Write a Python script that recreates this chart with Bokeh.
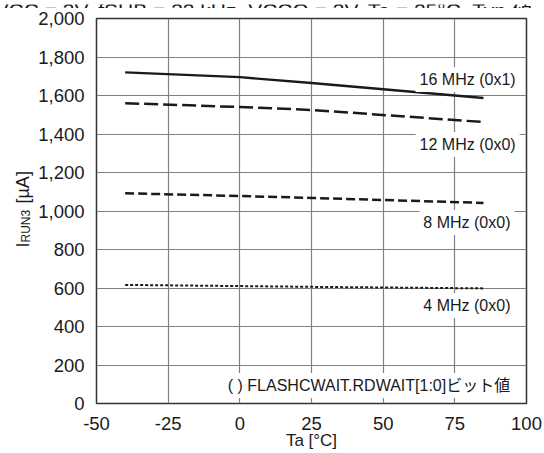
import math
from bokeh.plotting import figure
from bokeh.layouts import column, row
from bokeh.models import Label, FixedTicker, NumeralTickFormatter, Range1d
from bokeh.core.properties import value
from bokeh.embed import file_html
from bokeh.resources import INLINE

# ---- data ----
temps = [-40, 0, 25, 85]
i_16mhz = [1720, 1695, 1665, 1587]
i_12mhz = [1560, 1540, 1525, 1462]
i_8mhz = [1092, 1078, 1068, 1042]
i_4mhz = [616, 610, 606, 598]
series_labels = ["16 MHz (0x1)", "12 MHz (0x0)", "8 MHz (0x0)", "4 MHz (0x0)"]
x_ticks = [-50, -25, 0, 25, 50, 75, 100]
y_ticks = [0, 200, 400, 600, 800, 1000, 1200, 1400, 1600, 1800, 2000]
title_text = "VCC = 3V, fSUB = 32 kHz, VCCO = 3V, Ta = 25°C, Typ.値"
note_text = "( ) FLASHCWAIT.RDWAIT[1:0]ビット値"
x_title = "Ta [°C]"
y_title_parts = ["I", "RUN3", "[µA]"]

FONT = "Liberation Sans, Noto Sans CJK JP"
TXT = "#1a1a1a"


def blank(width, height, yr):
    f = figure(width=width, height=height, x_range=Range1d(0, width), y_range=Range1d(0, yr),
               output_backend="svg", toolbar_location=None)
    f.axis.visible = False
    f.grid.visible = False
    f.outline_line_color = None
    f.min_border = 0
    f.min_border_left = 0
    f.min_border_right = 0
    f.min_border_top = 0
    f.min_border_bottom = 0
    f.background_fill_color = "white"
    f.border_fill_color = "white"
    return f


# ---- heading strip (cropped at the top like the reference) ----
head = blank(544, 8, 8)
head.text(x=[-6], y=[2], text=[title_text], text_font=value(FONT), text_font_size="21px",
          text_color=TXT, text_align="left", text_baseline="alphabetic")

# ---- y-axis title strip (its frame is aligned with the main frame: 385 px tall) ----
ylab = blank(35, 445, 385)
ylab.text(x=[22], y=[156], text=[y_title_parts[0]], angle=math.pi / 2, text_font=value(FONT),
          text_font_size="18px", text_color=TXT, text_align="left", text_baseline="alphabetic")
ylab.text(x=[25], y=[161], text=[y_title_parts[1]], angle=math.pi / 2, text_font=value(FONT),
          text_font_size="12px", text_color=TXT, text_align="left", text_baseline="alphabetic")
ylab.text(x=[22], y=[200], text=[y_title_parts[2]], angle=math.pi / 2, text_font=value(FONT),
          text_font_size="18px", text_color=TXT, text_align="left", text_baseline="alphabetic")

# ---- main plot ----
p = figure(width=509, height=445, x_range=(-50, 100), y_range=(0, 2000),
           output_backend="svg", toolbar_location=None)
p.min_border_left = 58
p.min_border_right = 18
p.min_border_top = 10
p.min_border_bottom = 50
p.background_fill_color = "white"
p.border_fill_color = "white"
p.outline_line_color = "#333333"
p.outline_line_width = 1.5

for ax in (p.xaxis[0], p.yaxis[0]):
    ax.axis_line_color = None
    ax.major_tick_line_color = None
    ax.minor_tick_line_color = None
    ax.major_tick_out = 0
    ax.major_tick_in = 0
    ax.minor_tick_out = 0
    ax.minor_tick_in = 0
    ax.major_label_text_font = FONT
    ax.major_label_text_font_size = "18.5px"
    ax.major_label_text_color = TXT

p.xaxis[0].ticker = FixedTicker(ticks=x_ticks)
p.xaxis[0].major_label_overrides = {t: str(t) for t in x_ticks}
p.yaxis[0].ticker = FixedTicker(ticks=y_ticks)
p.yaxis[0].formatter = NumeralTickFormatter(format="0,0")
p.xaxis[0].major_label_standoff = 13
p.yaxis[0].major_label_standoff = 12
p.xaxis[0].axis_label = x_title
p.xaxis[0].axis_label_standoff = -2
p.xaxis[0].axis_label_text_font = FONT
p.xaxis[0].axis_label_text_font_size = "17px"
p.xaxis[0].axis_label_text_font_style = "normal"
p.xaxis[0].axis_label_text_color = TXT

p.xgrid.grid_line_color = "#808080"
p.ygrid.grid_line_color = "#808080"
p.xgrid.grid_line_width = 1.2
p.ygrid.grid_line_width = 1.2

# ---- series ----
p.line(temps, i_16mhz, line_color=TXT, line_width=2.3)
p.line(temps, i_12mhz, line_color=TXT, line_width=2.5, line_dash="14 5")
p.line(temps, i_8mhz, line_color=TXT, line_width=2.5, line_dash="9 4")
p.line(temps, i_4mhz, line_color=TXT, line_width=2.0, line_dash="3 2")

# ---- series labels ----
lab_pos = [(97.6, 1683), (97.6, 1345), (95.8, 940), (95.8, 509)]
for (lx, ly), txt in zip(lab_pos, series_labels):
    p.add_layout(Label(x=lx, y=ly, text=txt, text_align="right", text_baseline="middle",
                       text_font=FONT, text_font_size="16px", text_color=TXT,
                       background_fill_color="white", padding=4))

p.add_layout(Label(x=95.7, y=94, text=note_text, text_align="right", text_baseline="middle",
                   text_font=FONT, text_font_size="16px", text_color=TXT,
                   background_fill_color="white", padding=4))

layout = column(head, row(ylab, p))
open("out.html", "w").write(file_html(layout, INLINE))
